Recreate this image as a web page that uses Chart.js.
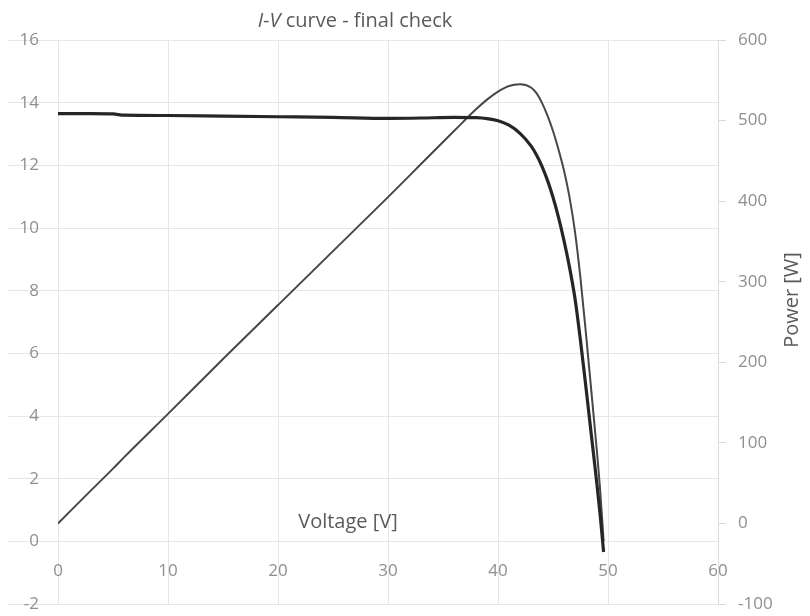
<!DOCTYPE html>
<html><head><meta charset="utf-8">
<script src="https://cdn.jsdelivr.net/npm/chart.js@4"></script>
<style>html,body{margin:0;padding:0;background:#fff}#wrap{width:810px;height:616px}</style>
</head><body><div id="wrap"><canvas id="c" width="810" height="616"></canvas></div>
<script>
// ---- data ----
const voltage = [0,3,5,6,10,15,20,25,30,33,36,38,39,40,41,42,43,43.5,44,44.5,45,45.5,46,46.5,47,47.5,48,48.5,49,49.3,49.6];
const current = [13.65,13.65,13.64,13.60,13.59,13.57,13.55,13.53,13.50,13.51,13.53,13.52,13.49,13.42,13.28,13.02,12.62,12.33,11.97,11.52,10.98,10.34,9.60,8.75,7.75,6.40,4.90,3.35,1.80,0.80,-0.34];
const power   = [0,41,68,82,136,204,271,338,405,446,487,514,526,536,543,545,541,534,522,506,487,464,438,405,362,304,235,162,88,39,-22];
const voltageTicks = [0,10,20,30,40,50,60];
const currentTicks = [-2,0,2,4,6,8,10,12,14,16];
const powerTicks = [-100,0,100,200,300,400,500,600];

const FAM = "'Open Sans', 'Liberation Sans', sans-serif";
const TXT = '#5a5a5a';
const TICK = '#8f8f8f';
const GRID = '#e6e6e6';

const textPlugin = {
  id: 'texts',
  afterDraw(chart) {
    const c = chart.ctx, a = chart.chartArea;
    c.save();
    // title with italic I and V
    const parts = [['I', true], ['-', false], ['V', true], [' curve - final check', false]];
    const size = 20;
    let total = 0;
    parts.forEach(p => { c.font = (p[1] ? 'italic ' : '') + size + 'px ' + FAM; total += c.measureText(p[0]).width; });
    let x = a.left + 297 - total / 2;
    c.fillStyle = TXT; c.textBaseline = 'middle'; c.textAlign = 'left';
    parts.forEach(p => { c.font = (p[1] ? 'italic ' : '') + size + 'px ' + FAM; c.fillText(p[0], x, 21); x += c.measureText(p[0]).width; });
    // x axis title
    c.font = size + 'px ' + FAM; c.textAlign = 'center';
    const y0 = chart.scales.y.getPixelForValue(0);
    c.fillText('Voltage [V]', a.left + 290, y0 - 19);
    // right axis title
    c.translate(792, 300);
    c.rotate(-Math.PI / 2);
    c.fillText('Power [W]', 0, 0);
    c.restore();
  }
};

new Chart(document.getElementById('c'), {
  type: 'line',
  data: {
    datasets: [
      {
        label: 'Current',
        data: voltage.map((v, i) => ({x: v, y: current[i]})),
        yAxisID: 'y',
        borderColor: '#262626',
        borderWidth: 3.2,
        pointRadius: 0,
        cubicInterpolationMode: 'monotone',
        fill: false
      },
      {
        label: 'Power',
        data: voltage.map((v, i) => ({x: v, y: power[i]})),
        yAxisID: 'y1',
        borderColor: '#474747',
        borderWidth: 2,
        pointRadius: 0,
        cubicInterpolationMode: 'monotone',
        fill: false
      }
    ]
  },
  options: {
    responsive: false,
    animation: false,
    devicePixelRatio: 1,
    layout: {padding: {top: 40, bottom: 12, left: 0, right: 0}},
    plugins: {legend: {display: false}, title: {display: false}, tooltip: {enabled: false}},
    scales: {
      x: {
        type: 'linear',
        min: 0, max: 60,
        position: {y: 0},
        afterBuildTicks: s => { s.ticks = voltageTicks.map(v => ({value: v})); },
        grid: {color: GRID, drawTicks: false},
        border: {display: false},
        ticks: {color: TICK, font: {family: FAM, size: 17}, padding: 20, maxRotation: 0}
      },
      y: {
        type: 'linear',
        position: 'left',
        min: -2, max: 16,
        afterBuildTicks: s => { s.ticks = currentTicks.map(v => ({value: v})); },
        afterFit: s => { s.width = 58; s.paddingTop = 0; s.paddingBottom = 0; },
        grid: {color: GRID, drawTicks: true, tickLength: 50},
        border: {display: false},
        ticks: {color: TICK, font: {family: FAM, size: 17}, padding: -31}
      },
      y1: {
        type: 'linear',
        position: 'right',
        min: -100, max: 600,
        afterBuildTicks: s => { s.ticks = powerTicks.map(v => ({value: v})); },
        afterFit: s => { s.width = 92; s.paddingTop = 0; s.paddingBottom = 0; },
        grid: {drawOnChartArea: false, color: '#d8d8d8', tickLength: 8},
        border: {display: true, color: '#dcdcdc'},
        ticks: {color: TICK, font: {family: FAM, size: 17}, padding: 12}
      }
    }
  },
  plugins: [textPlugin]
});
</script>
</body></html>
